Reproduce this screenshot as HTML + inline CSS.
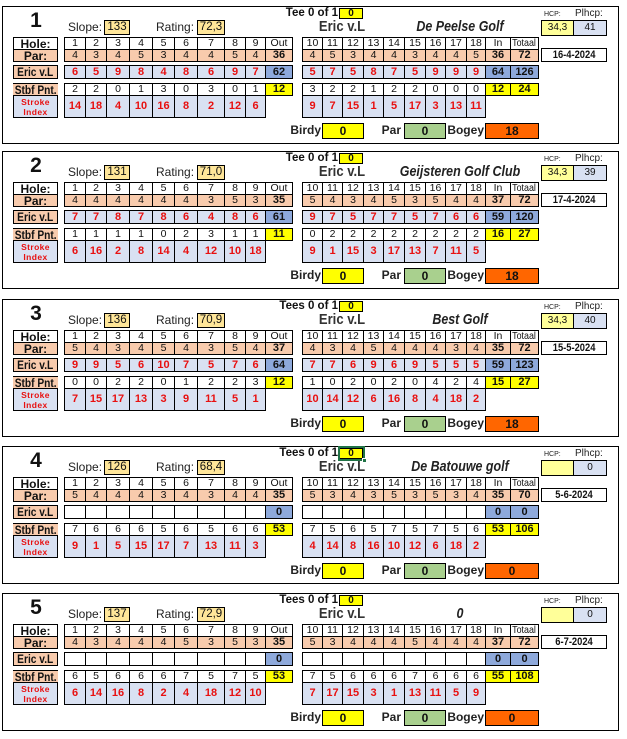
<!DOCTYPE html>
<html><head><meta charset="utf-8">
<style>
*{box-sizing:border-box}
body{margin:0;width:627px;height:739px;background:#fff;position:relative;overflow:hidden;font-family:"Liberation Sans",Arial,sans-serif;color:#000}
.w{position:absolute;left:0;width:627px;height:140px}
.bx{position:absolute;left:2px;top:0;width:617px;height:138px;border:1px solid #000}
.c{position:absolute;border:1px solid #000;display:flex;align-items:center;justify-content:center;font-size:10.5px;line-height:1;white-space:nowrap;color:#111}
.a1{left:64px;width:22px}.a2{left:85px;width:22px}.a3{left:106px;width:24px}.a4{left:129px;width:24px}.a5{left:152px;width:23px}.a6{left:174px;width:24px}.a7{left:197px;width:28px}.a8{left:224px;width:22px}.a9{left:245px;width:21px}.ao{left:265px;width:28px}
.k1{left:302px;width:21px}.k2{left:322px;width:21px}.k3{left:342px;width:22px}.k4{left:363px;width:21px}.k5{left:383px;width:22px}.k6{left:404px;width:22px}.k7{left:425px;width:21px}.k8{left:445px;width:22px}.k9{left:466px;width:20px}.ki{left:485px;width:26px}.kt{left:510px;width:29px}
.L{left:13px;width:45px}
.h{top:31px;height:13px}.p{top:43px;height:13px}.e{top:59px;height:14px}.s{top:77px;height:13px}.i{top:89px;height:23px}
.S{background:#F8CBAD}.B{background:#D9E1F2}
.T{background:#8EA9DB;font-weight:bold;font-size:11px}
.Y{background:#FFFF00;font-weight:bold;font-size:11px}
.R{color:#E81010;font-weight:bold;font-size:11px}
.D{font-weight:bold;font-size:11px}
.lab{font-weight:bold;font-size:12px;color:#111}
.st{border-width:1px 0 0 0}
.si{color:#E81010;font-weight:bold;font-size:8.5px;line-height:10px;text-align:center;letter-spacing:.4px}
.n{display:inline-block;transform:scaleX(.85)}
.num{position:absolute;left:16px;width:40px;top:4px;font-weight:bold;font-size:21px;line-height:21px;text-align:center;color:#111}
.tx{position:absolute;top:14px;height:15px;line-height:15px;font-size:12px;color:#222}
.bb{top:14px;height:15px;background:#FFE699;font-size:11.5px}
.tee{position:absolute;left:230px;width:108px;top:1px;line-height:13px;text-align:right;font-weight:bold;font-size:11.5px;color:#111}
.tb{left:339px;width:24px;top:2px;height:11px;background:#FFFF00;font-weight:bold;font-size:10px}
.nm{position:absolute;left:292px;width:100px;text-align:center;top:13px;line-height:16px;font-size:15px;font-weight:bold;color:#333;transform:scaleX(.87)}
.cn{position:absolute;left:360px;width:200px;text-align:center;top:13px;line-height:16px;font-size:15px;font-weight:bold;font-style:italic;color:#222;transform:scaleX(.83)}
.hl{position:absolute;left:544px;top:5px;font-size:7px;line-height:7px;color:#222}
.pl{position:absolute;left:575px;top:3px;font-size:10px;line-height:10px;color:#222}
.hc{left:541px;width:33px;top:14px;height:16px;background:#FFFF99;font-size:10px}
.ph{left:573px;width:34px;top:14px;height:16px;background:#D9E1F2;font-size:10px}
.dt{left:541px;width:66px;top:42px;height:14px;font-weight:bold;font-size:11px}
.bt{position:absolute;top:117px;height:15px;line-height:15px;text-align:right;font-weight:bold;font-size:12px;color:#222}
.bo{top:117px;height:16px;font-weight:bold;font-size:12px}
</style></head><body>

<!-- PANEL 1 -->
<div class="w" style="top:6px">
<div class="bx"></div>
<div class="num">1</div>
<div class="tx" style="left:68px">Slope:</div><div class="c bb" style="left:104px;width:26px">133</div>
<div class="tx" style="left:156px">Rating:</div><div class="c bb" style="left:197px;width:28px">72,3</div>
<div class="tee">Tee 0 of 1</div><div class="c tb">0</div>
<div class="nm">Eric v.L</div><div class="cn">De Peelse Golf</div>
<div class="hl">HCP:</div><div class="pl">Plhcp:</div>
<div class="c hc">34,3</div><div class="c ph">41</div><div class="c dt"><span class="n">16-4-2024</span></div>
<div class="c L h lab">Hole:</div>
<div class="c L p S lab">Par:</div>
<div class="c L e S lab"><span class="n">Eric v.L</span></div>
<div class="c L s S lab st"><span class="n">Stbf Pnt.</span></div>
<div class="c L i B si"><span>Stroke<br>Index</span></div>
<div class="c a1 h">1</div><div class="c a2 h">2</div><div class="c a3 h">3</div><div class="c a4 h">4</div><div class="c a5 h">5</div><div class="c a6 h">6</div><div class="c a7 h">7</div><div class="c a8 h">8</div><div class="c a9 h">9</div><div class="c ao h">Out</div>
<div class="c k1 h">10</div><div class="c k2 h">11</div><div class="c k3 h">12</div><div class="c k4 h">13</div><div class="c k5 h">14</div><div class="c k6 h">15</div><div class="c k7 h">16</div><div class="c k8 h">17</div><div class="c k9 h">18</div><div class="c ki h">In</div><div class="c kt h"><span class="n">Totaal</span></div>
<div class="c a1 p S">4</div><div class="c a2 p S">3</div><div class="c a3 p S">4</div><div class="c a4 p S">5</div><div class="c a5 p S">3</div><div class="c a6 p S">4</div><div class="c a7 p S">4</div><div class="c a8 p S">5</div><div class="c a9 p S">4</div><div class="c ao p S D">36</div>
<div class="c k1 p S">4</div><div class="c k2 p S">5</div><div class="c k3 p S">3</div><div class="c k4 p S">4</div><div class="c k5 p S">4</div><div class="c k6 p S">3</div><div class="c k7 p S">4</div><div class="c k8 p S">4</div><div class="c k9 p S">5</div><div class="c ki p S D">36</div><div class="c kt p S D">72</div>
<div class="c a1 e B R">6</div><div class="c a2 e B R">5</div><div class="c a3 e B R">9</div><div class="c a4 e B R">8</div><div class="c a5 e B R">4</div><div class="c a6 e B R">8</div><div class="c a7 e B R">6</div><div class="c a8 e B R">9</div><div class="c a9 e B R">7</div><div class="c ao e T">62</div>
<div class="c k1 e B R">5</div><div class="c k2 e B R">7</div><div class="c k3 e B R">5</div><div class="c k4 e B R">8</div><div class="c k5 e B R">7</div><div class="c k6 e B R">5</div><div class="c k7 e B R">9</div><div class="c k8 e B R">9</div><div class="c k9 e B R">9</div><div class="c ki e T">64</div><div class="c kt e T">126</div>
<div class="c a1 s">2</div><div class="c a2 s">2</div><div class="c a3 s">0</div><div class="c a4 s">1</div><div class="c a5 s">3</div><div class="c a6 s">0</div><div class="c a7 s">3</div><div class="c a8 s">0</div><div class="c a9 s">1</div><div class="c ao s Y">12</div>
<div class="c k1 s">3</div><div class="c k2 s">2</div><div class="c k3 s">2</div><div class="c k4 s">1</div><div class="c k5 s">2</div><div class="c k6 s">2</div><div class="c k7 s">0</div><div class="c k8 s">0</div><div class="c k9 s">0</div><div class="c ki s Y">12</div><div class="c kt s Y">24</div>
<div class="c a1 i B R">14</div><div class="c a2 i B R">18</div><div class="c a3 i B R">4</div><div class="c a4 i B R">10</div><div class="c a5 i B R">16</div><div class="c a6 i B R">8</div><div class="c a7 i B R">2</div><div class="c a8 i B R">12</div><div class="c a9 i B R">6</div>
<div class="c k1 i B R">9</div><div class="c k2 i B R">7</div><div class="c k3 i B R">15</div><div class="c k4 i B R">1</div><div class="c k5 i B R">5</div><div class="c k6 i B R">17</div><div class="c k7 i B R">3</div><div class="c k8 i B R">13</div><div class="c k9 i B R">11</div>
<div class="bt" style="left:250px;width:71px">Birdy</div><div class="c bo" style="left:322px;width:42px;background:#FFFF00">0</div>
<div class="bt" style="left:350px;width:51px">Par</div><div class="c bo" style="left:404px;width:42px;background:#A9D08E">0</div>
<div class="bt" style="left:420px;width:64px">Bogey</div><div class="c bo" style="left:485px;width:54px;background:#FF6600">18</div>
</div>

<!-- PANEL 2 -->
<div class="w" style="top:151px">
<div class="bx"></div>
<div class="num">2</div>
<div class="tx" style="left:68px">Slope:</div><div class="c bb" style="left:104px;width:26px">131</div>
<div class="tx" style="left:156px">Rating:</div><div class="c bb" style="left:197px;width:28px">71,0</div>
<div class="tee">Tee 0 of 1</div><div class="c tb">0</div>
<div class="nm">Eric v.L</div><div class="cn">Geijsteren Golf Club</div>
<div class="hl">HCP:</div><div class="pl">Plhcp:</div>
<div class="c hc">34,3</div><div class="c ph">39</div><div class="c dt"><span class="n">17-4-2024</span></div>
<div class="c L h lab">Hole:</div>
<div class="c L p S lab">Par:</div>
<div class="c L e S lab"><span class="n">Eric v.L</span></div>
<div class="c L s S lab st"><span class="n">Stbf Pnt.</span></div>
<div class="c L i B si"><span>Stroke<br>Index</span></div>
<div class="c a1 h">1</div><div class="c a2 h">2</div><div class="c a3 h">3</div><div class="c a4 h">4</div><div class="c a5 h">5</div><div class="c a6 h">6</div><div class="c a7 h">7</div><div class="c a8 h">8</div><div class="c a9 h">9</div><div class="c ao h">Out</div>
<div class="c k1 h">10</div><div class="c k2 h">11</div><div class="c k3 h">12</div><div class="c k4 h">13</div><div class="c k5 h">14</div><div class="c k6 h">15</div><div class="c k7 h">16</div><div class="c k8 h">17</div><div class="c k9 h">18</div><div class="c ki h">In</div><div class="c kt h"><span class="n">Totaal</span></div>
<div class="c a1 p S">4</div><div class="c a2 p S">4</div><div class="c a3 p S">4</div><div class="c a4 p S">4</div><div class="c a5 p S">4</div><div class="c a6 p S">4</div><div class="c a7 p S">3</div><div class="c a8 p S">5</div><div class="c a9 p S">3</div><div class="c ao p S D">35</div>
<div class="c k1 p S">5</div><div class="c k2 p S">4</div><div class="c k3 p S">3</div><div class="c k4 p S">4</div><div class="c k5 p S">5</div><div class="c k6 p S">3</div><div class="c k7 p S">5</div><div class="c k8 p S">4</div><div class="c k9 p S">4</div><div class="c ki p S D">37</div><div class="c kt p S D">72</div>
<div class="c a1 e B R">7</div><div class="c a2 e B R">7</div><div class="c a3 e B R">8</div><div class="c a4 e B R">7</div><div class="c a5 e B R">8</div><div class="c a6 e B R">6</div><div class="c a7 e B R">4</div><div class="c a8 e B R">8</div><div class="c a9 e B R">6</div><div class="c ao e T">61</div>
<div class="c k1 e B R">9</div><div class="c k2 e B R">7</div><div class="c k3 e B R">5</div><div class="c k4 e B R">7</div><div class="c k5 e B R">7</div><div class="c k6 e B R">5</div><div class="c k7 e B R">7</div><div class="c k8 e B R">6</div><div class="c k9 e B R">6</div><div class="c ki e T">59</div><div class="c kt e T">120</div>
<div class="c a1 s">1</div><div class="c a2 s">1</div><div class="c a3 s">1</div><div class="c a4 s">1</div><div class="c a5 s">0</div><div class="c a6 s">2</div><div class="c a7 s">3</div><div class="c a8 s">1</div><div class="c a9 s">1</div><div class="c ao s Y">11</div>
<div class="c k1 s">0</div><div class="c k2 s">2</div><div class="c k3 s">2</div><div class="c k4 s">2</div><div class="c k5 s">2</div><div class="c k6 s">2</div><div class="c k7 s">2</div><div class="c k8 s">2</div><div class="c k9 s">2</div><div class="c ki s Y">16</div><div class="c kt s Y">27</div>
<div class="c a1 i B R">6</div><div class="c a2 i B R">16</div><div class="c a3 i B R">2</div><div class="c a4 i B R">8</div><div class="c a5 i B R">14</div><div class="c a6 i B R">4</div><div class="c a7 i B R">12</div><div class="c a8 i B R">10</div><div class="c a9 i B R">18</div>
<div class="c k1 i B R">9</div><div class="c k2 i B R">1</div><div class="c k3 i B R">15</div><div class="c k4 i B R">3</div><div class="c k5 i B R">17</div><div class="c k6 i B R">13</div><div class="c k7 i B R">7</div><div class="c k8 i B R">11</div><div class="c k9 i B R">5</div>
<div class="bt" style="left:250px;width:71px">Birdy</div><div class="c bo" style="left:322px;width:42px;background:#FFFF00">0</div>
<div class="bt" style="left:350px;width:51px">Par</div><div class="c bo" style="left:404px;width:42px;background:#A9D08E">0</div>
<div class="bt" style="left:420px;width:64px">Bogey</div><div class="c bo" style="left:485px;width:54px;background:#FF6600">18</div>
</div>

<!-- PANEL 3 -->
<div class="w" style="top:299px">
<div class="bx"></div>
<div class="num">3</div>
<div class="tx" style="left:68px">Slope:</div><div class="c bb" style="left:104px;width:26px">136</div>
<div class="tx" style="left:156px">Rating:</div><div class="c bb" style="left:197px;width:28px">70,9</div>
<div class="tee">Tees 0 of 1</div><div class="c tb">0</div>
<div class="nm">Eric v.L</div><div class="cn">Best Golf</div>
<div class="hl">HCP:</div><div class="pl">Plhcp:</div>
<div class="c hc">34,3</div><div class="c ph">40</div><div class="c dt"><span class="n">15-5-2024</span></div>
<div class="c L h lab">Hole:</div>
<div class="c L p S lab">Par:</div>
<div class="c L e S lab"><span class="n">Eric v.L</span></div>
<div class="c L s S lab st"><span class="n">Stbf Pnt.</span></div>
<div class="c L i B si"><span>Stroke<br>Index</span></div>
<div class="c a1 h">1</div><div class="c a2 h">2</div><div class="c a3 h">3</div><div class="c a4 h">4</div><div class="c a5 h">5</div><div class="c a6 h">6</div><div class="c a7 h">7</div><div class="c a8 h">8</div><div class="c a9 h">9</div><div class="c ao h">Out</div>
<div class="c k1 h">10</div><div class="c k2 h">11</div><div class="c k3 h">12</div><div class="c k4 h">13</div><div class="c k5 h">14</div><div class="c k6 h">15</div><div class="c k7 h">16</div><div class="c k8 h">17</div><div class="c k9 h">18</div><div class="c ki h">In</div><div class="c kt h"><span class="n">Totaal</span></div>
<div class="c a1 p S">5</div><div class="c a2 p S">4</div><div class="c a3 p S">3</div><div class="c a4 p S">4</div><div class="c a5 p S">5</div><div class="c a6 p S">4</div><div class="c a7 p S">3</div><div class="c a8 p S">5</div><div class="c a9 p S">4</div><div class="c ao p S D">37</div>
<div class="c k1 p S">4</div><div class="c k2 p S">3</div><div class="c k3 p S">4</div><div class="c k4 p S">5</div><div class="c k5 p S">4</div><div class="c k6 p S">4</div><div class="c k7 p S">4</div><div class="c k8 p S">3</div><div class="c k9 p S">4</div><div class="c ki p S D">35</div><div class="c kt p S D">72</div>
<div class="c a1 e B R">9</div><div class="c a2 e B R">9</div><div class="c a3 e B R">5</div><div class="c a4 e B R">6</div><div class="c a5 e B R">10</div><div class="c a6 e B R">7</div><div class="c a7 e B R">5</div><div class="c a8 e B R">7</div><div class="c a9 e B R">6</div><div class="c ao e T">64</div>
<div class="c k1 e B R">7</div><div class="c k2 e B R">7</div><div class="c k3 e B R">6</div><div class="c k4 e B R">9</div><div class="c k5 e B R">6</div><div class="c k6 e B R">9</div><div class="c k7 e B R">5</div><div class="c k8 e B R">5</div><div class="c k9 e B R">5</div><div class="c ki e T">59</div><div class="c kt e T">123</div>
<div class="c a1 s">0</div><div class="c a2 s">0</div><div class="c a3 s">2</div><div class="c a4 s">2</div><div class="c a5 s">0</div><div class="c a6 s">1</div><div class="c a7 s">2</div><div class="c a8 s">2</div><div class="c a9 s">3</div><div class="c ao s Y">12</div>
<div class="c k1 s">1</div><div class="c k2 s">0</div><div class="c k3 s">2</div><div class="c k4 s">0</div><div class="c k5 s">2</div><div class="c k6 s">0</div><div class="c k7 s">4</div><div class="c k8 s">2</div><div class="c k9 s">4</div><div class="c ki s Y">15</div><div class="c kt s Y">27</div>
<div class="c a1 i B R">7</div><div class="c a2 i B R">15</div><div class="c a3 i B R">17</div><div class="c a4 i B R">13</div><div class="c a5 i B R">3</div><div class="c a6 i B R">9</div><div class="c a7 i B R">11</div><div class="c a8 i B R">5</div><div class="c a9 i B R">1</div>
<div class="c k1 i B R">10</div><div class="c k2 i B R">14</div><div class="c k3 i B R">12</div><div class="c k4 i B R">6</div><div class="c k5 i B R">16</div><div class="c k6 i B R">8</div><div class="c k7 i B R">4</div><div class="c k8 i B R">18</div><div class="c k9 i B R">2</div>
<div class="bt" style="left:250px;width:71px">Birdy</div><div class="c bo" style="left:322px;width:42px;background:#FFFF00">0</div>
<div class="bt" style="left:350px;width:51px">Par</div><div class="c bo" style="left:404px;width:42px;background:#A9D08E">0</div>
<div class="bt" style="left:420px;width:64px">Bogey</div><div class="c bo" style="left:485px;width:54px;background:#FF6600">18</div>
</div>

<!-- PANEL 4 -->
<div class="w" style="top:446px">
<div class="bx"></div>
<div class="num">4</div>
<div class="tx" style="left:68px">Slope:</div><div class="c bb" style="left:104px;width:26px">126</div>
<div class="tx" style="left:156px">Rating:</div><div class="c bb" style="left:197px;width:28px">68,4</div>
<div class="tee">Tees 0 of 1</div><div class="c tb">0</div>
<div style="position:absolute;left:338px;top:0;width:27px;height:15px;border:2px solid #217346"></div>
<div style="position:absolute;left:362px;top:12px;width:5px;height:5px;background:#217346;border:1px solid #fff"></div>
<div class="nm">Eric v.L</div><div class="cn">De Batouwe golf</div>
<div class="hl">HCP:</div><div class="pl">Plhcp:</div>
<div class="c hc"></div><div class="c ph">0</div><div class="c dt"><span class="n">5-6-2024</span></div>
<div class="c L h lab">Hole:</div>
<div class="c L p S lab">Par:</div>
<div class="c L e S lab"><span class="n">Eric v.L</span></div>
<div class="c L s S lab st"><span class="n">Stbf Pnt.</span></div>
<div class="c L i B si"><span>Stroke<br>Index</span></div>
<div class="c a1 h">1</div><div class="c a2 h">2</div><div class="c a3 h">3</div><div class="c a4 h">4</div><div class="c a5 h">5</div><div class="c a6 h">6</div><div class="c a7 h">7</div><div class="c a8 h">8</div><div class="c a9 h">9</div><div class="c ao h">Out</div>
<div class="c k1 h">10</div><div class="c k2 h">11</div><div class="c k3 h">12</div><div class="c k4 h">13</div><div class="c k5 h">14</div><div class="c k6 h">15</div><div class="c k7 h">16</div><div class="c k8 h">17</div><div class="c k9 h">18</div><div class="c ki h">In</div><div class="c kt h"><span class="n">Totaal</span></div>
<div class="c a1 p S">5</div><div class="c a2 p S">4</div><div class="c a3 p S">4</div><div class="c a4 p S">4</div><div class="c a5 p S">3</div><div class="c a6 p S">4</div><div class="c a7 p S">3</div><div class="c a8 p S">4</div><div class="c a9 p S">4</div><div class="c ao p S D">35</div>
<div class="c k1 p S">5</div><div class="c k2 p S">3</div><div class="c k3 p S">4</div><div class="c k4 p S">3</div><div class="c k5 p S">5</div><div class="c k6 p S">3</div><div class="c k7 p S">5</div><div class="c k8 p S">3</div><div class="c k9 p S">4</div><div class="c ki p S D">35</div><div class="c kt p S D">70</div>
<div class="c a1 e"></div><div class="c a2 e"></div><div class="c a3 e"></div><div class="c a4 e"></div><div class="c a5 e"></div><div class="c a6 e"></div><div class="c a7 e"></div><div class="c a8 e"></div><div class="c a9 e"></div><div class="c ao e T">0</div>
<div class="c k1 e"></div><div class="c k2 e"></div><div class="c k3 e"></div><div class="c k4 e"></div><div class="c k5 e"></div><div class="c k6 e"></div><div class="c k7 e"></div><div class="c k8 e"></div><div class="c k9 e"></div><div class="c ki e T">0</div><div class="c kt e T">0</div>
<div class="c a1 s">7</div><div class="c a2 s">6</div><div class="c a3 s">6</div><div class="c a4 s">6</div><div class="c a5 s">5</div><div class="c a6 s">6</div><div class="c a7 s">5</div><div class="c a8 s">6</div><div class="c a9 s">6</div><div class="c ao s Y">53</div>
<div class="c k1 s">7</div><div class="c k2 s">5</div><div class="c k3 s">6</div><div class="c k4 s">5</div><div class="c k5 s">7</div><div class="c k6 s">5</div><div class="c k7 s">7</div><div class="c k8 s">5</div><div class="c k9 s">6</div><div class="c ki s Y">53</div><div class="c kt s Y">106</div>
<div class="c a1 i B R">9</div><div class="c a2 i B R">1</div><div class="c a3 i B R">5</div><div class="c a4 i B R">15</div><div class="c a5 i B R">17</div><div class="c a6 i B R">7</div><div class="c a7 i B R">13</div><div class="c a8 i B R">11</div><div class="c a9 i B R">3</div>
<div class="c k1 i B R">4</div><div class="c k2 i B R">14</div><div class="c k3 i B R">8</div><div class="c k4 i B R">16</div><div class="c k5 i B R">10</div><div class="c k6 i B R">12</div><div class="c k7 i B R">6</div><div class="c k8 i B R">18</div><div class="c k9 i B R">2</div>
<div class="bt" style="left:250px;width:71px">Birdy</div><div class="c bo" style="left:322px;width:42px;background:#FFFF00">0</div>
<div class="bt" style="left:350px;width:51px">Par</div><div class="c bo" style="left:404px;width:42px;background:#A9D08E">0</div>
<div class="bt" style="left:420px;width:64px">Bogey</div><div class="c bo" style="left:485px;width:54px;background:#FF6600">0</div>
</div>

<!-- PANEL 5 -->
<div class="w" style="top:593px">
<div class="bx"></div>
<div class="num">5</div>
<div class="tx" style="left:68px">Slope:</div><div class="c bb" style="left:104px;width:26px">137</div>
<div class="tx" style="left:156px">Rating:</div><div class="c bb" style="left:197px;width:28px">72,9</div>
<div class="tee">Tees 0 of 1</div><div class="c tb">0</div>
<div class="nm">Eric v.L</div><div class="cn">0</div>
<div class="hl">HCP:</div><div class="pl">Plhcp:</div>
<div class="c hc"></div><div class="c ph">0</div><div class="c dt"><span class="n">6-7-2024</span></div>
<div class="c L h lab">Hole:</div>
<div class="c L p S lab">Par:</div>
<div class="c L e S lab"><span class="n">Eric v.L</span></div>
<div class="c L s S lab st"><span class="n">Stbf Pnt.</span></div>
<div class="c L i B si"><span>Stroke<br>Index</span></div>
<div class="c a1 h">1</div><div class="c a2 h">2</div><div class="c a3 h">3</div><div class="c a4 h">4</div><div class="c a5 h">5</div><div class="c a6 h">6</div><div class="c a7 h">7</div><div class="c a8 h">8</div><div class="c a9 h">9</div><div class="c ao h">Out</div>
<div class="c k1 h">10</div><div class="c k2 h">11</div><div class="c k3 h">12</div><div class="c k4 h">13</div><div class="c k5 h">14</div><div class="c k6 h">15</div><div class="c k7 h">16</div><div class="c k8 h">17</div><div class="c k9 h">18</div><div class="c ki h">In</div><div class="c kt h"><span class="n">Totaal</span></div>
<div class="c a1 p S">4</div><div class="c a2 p S">3</div><div class="c a3 p S">4</div><div class="c a4 p S">4</div><div class="c a5 p S">4</div><div class="c a6 p S">5</div><div class="c a7 p S">3</div><div class="c a8 p S">5</div><div class="c a9 p S">3</div><div class="c ao p S D">35</div>
<div class="c k1 p S">5</div><div class="c k2 p S">3</div><div class="c k3 p S">4</div><div class="c k4 p S">4</div><div class="c k5 p S">4</div><div class="c k6 p S">5</div><div class="c k7 p S">4</div><div class="c k8 p S">4</div><div class="c k9 p S">4</div><div class="c ki p S D">37</div><div class="c kt p S D">72</div>
<div class="c a1 e"></div><div class="c a2 e"></div><div class="c a3 e"></div><div class="c a4 e"></div><div class="c a5 e"></div><div class="c a6 e"></div><div class="c a7 e"></div><div class="c a8 e"></div><div class="c a9 e"></div><div class="c ao e T">0</div>
<div class="c k1 e"></div><div class="c k2 e"></div><div class="c k3 e"></div><div class="c k4 e"></div><div class="c k5 e"></div><div class="c k6 e"></div><div class="c k7 e"></div><div class="c k8 e"></div><div class="c k9 e"></div><div class="c ki e T">0</div><div class="c kt e T">0</div>
<div class="c a1 s">6</div><div class="c a2 s">5</div><div class="c a3 s">6</div><div class="c a4 s">6</div><div class="c a5 s">6</div><div class="c a6 s">7</div><div class="c a7 s">5</div><div class="c a8 s">7</div><div class="c a9 s">5</div><div class="c ao s Y">53</div>
<div class="c k1 s">7</div><div class="c k2 s">5</div><div class="c k3 s">6</div><div class="c k4 s">6</div><div class="c k5 s">6</div><div class="c k6 s">7</div><div class="c k7 s">6</div><div class="c k8 s">6</div><div class="c k9 s">6</div><div class="c ki s Y">55</div><div class="c kt s Y">108</div>
<div class="c a1 i B R">6</div><div class="c a2 i B R">14</div><div class="c a3 i B R">16</div><div class="c a4 i B R">8</div><div class="c a5 i B R">2</div><div class="c a6 i B R">4</div><div class="c a7 i B R">18</div><div class="c a8 i B R">12</div><div class="c a9 i B R">10</div>
<div class="c k1 i B R">7</div><div class="c k2 i B R">17</div><div class="c k3 i B R">15</div><div class="c k4 i B R">3</div><div class="c k5 i B R">1</div><div class="c k6 i B R">13</div><div class="c k7 i B R">11</div><div class="c k8 i B R">5</div><div class="c k9 i B R">9</div>
<div class="bt" style="left:250px;width:71px">Birdy</div><div class="c bo" style="left:322px;width:42px;background:#FFFF00">0</div>
<div class="bt" style="left:350px;width:51px">Par</div><div class="c bo" style="left:404px;width:42px;background:#A9D08E">0</div>
<div class="bt" style="left:420px;width:64px">Bogey</div><div class="c bo" style="left:485px;width:54px;background:#FF6600">0</div>
</div>

</body></html>
